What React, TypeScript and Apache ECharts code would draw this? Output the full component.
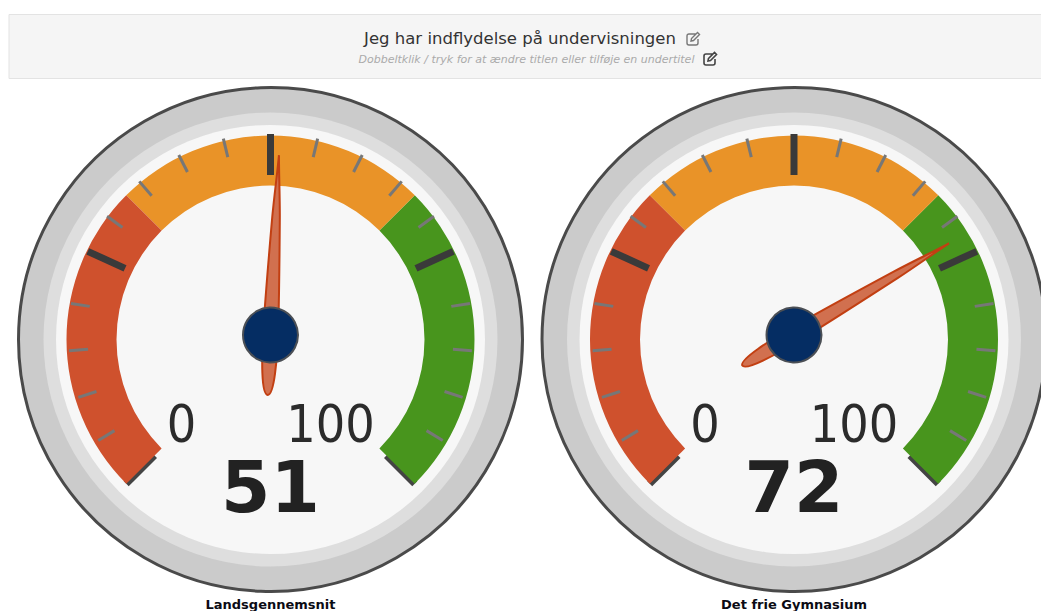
import React, { useEffect, useRef } from "react";
import * as echarts from "echarts";

const categories = ["Landsgennemsnit", "Det frie Gymnasium"];
const values = [51, 72];
const scaleLabels = ["0", "100"];
const scaleMin = 0;
const scaleMax = 100;
const titleText = "Jeg har indflydelse på undervisningen";
const subtitleText = "Dobbeltklik / tryk for at ændre titlen eller tilføje en undertitel";
const bandStops = [1 / 3, 2 / 3, 1];
const bandColors = ["#cf512d", "#e99328", "#48951d"];
const minorRanges = [
  [5, 20, 3],
  [30, 45, 3],
  [55, 70, 3],
  [80, 95, 3],
];

const FONT = "'DejaVu Sans', sans-serif";
const centers = [270.5, 794];
const DIAL_Y = 339.5;
const HUB_Y = 335;
const START = 225;
const SWEEP = 270;
const MAJOR_HALF_SWEEP = 65.4;
const angleOf = (v: number) => START - (SWEEP * (v - scaleMin)) / (scaleMax - scaleMin);

echarts.graphic.registerShape(
  "editIcon",
  echarts.graphic.extendPath(
    "M10 3 H3 Q1 3 1 5 V12 Q1 14 3 14 H10 Q12 14 12 12 V8 M5.5 7.5 L11.5 1.5 L13.5 3.5 L7.5 9.5 L5 10 Z",
    {} as any
  )
);

function ticks(
  cx: number,
  cy: number,
  radius: number,
  min: number,
  max: number,
  startAngle: number,
  endAngle: number,
  split: number,
  width: number,
  len: number,
  color: string,
  z: number
) {
  return {
    type: "gauge",
    center: [cx, cy],
    radius,
    min,
    max,
    startAngle,
    endAngle,
    splitNumber: split,
    z,
    silent: true,
    axisLine: { show: false, lineStyle: { width: 0 } },
    axisTick: { show: false },
    axisLabel: { show: false },
    splitLine: { show: true, distance: 0, length: len, lineStyle: { width, color, cap: "butt" } },
    pointer: { show: false },
    anchor: { show: false },
    title: { show: false },
    detail: { show: false },
    data: [],
  };
}

function gaugeSeries(i: number) {
  const cx = centers[i];
  return [
    ticks(cx, DIAL_Y, 204, scaleMin, scaleMax, angleOf(scaleMin), angleOf(scaleMax), 1, 7, 40, "#444444", 2),
    {
      type: "gauge",
      center: [cx, DIAL_Y],
      radius: 204,
      min: scaleMin,
      max: scaleMax,
      startAngle: angleOf(scaleMin),
      endAngle: angleOf(scaleMax),
      z: 3,
      silent: true,
      axisLine: {
        show: true,
        lineStyle: { width: 50, color: bandStops.map((s, k) => [s, bandColors[k]]) },
      },
      axisTick: { show: false },
      axisLabel: { show: false },
      splitLine: { show: false },
      pointer: { show: false },
      anchor: { show: false },
      title: { show: false },
      detail: { show: false },
      data: [],
    },
    ...minorRanges.map(([a, b, n]) =>
      ticks(cx, HUB_Y, 202, a, b, angleOf(a), angleOf(b), n, 3, 19, "#777777", 4)
    ),
    ticks(cx, HUB_Y, 201, 25, 75, 90 + MAJOR_HALF_SWEEP, 90 - MAJOR_HALF_SWEEP, 2, 7, 41, "#3a3a3a", 5),
    {
      type: "gauge",
      center: [cx, HUB_Y],
      radius: 180,
      min: scaleMin,
      max: scaleMax,
      startAngle: angleOf(scaleMin),
      endAngle: angleOf(scaleMax),
      z: 6,
      silent: true,
      axisLine: { show: false, lineStyle: { width: 0 } },
      axisTick: { show: false },
      axisLabel: { show: false },
      splitLine: { show: false },
      pointer: {
        show: true,
        icon: "path://M8 0 C8.8 18 10.8 40 11.8 62 C13 92 14.6 132 15.4 170 C16 205 14.5 240 8 240 C1.5 240 0 205 0.6 170 C1.4 132 3 92 4.2 62 C5.2 40 7.2 18 8 0 Z",
        width: 15,
        length: 240,
        offsetCenter: [0, 60],
        itemStyle: { color: "#d1704f", borderColor: "#c23f12", borderWidth: 2 },
      },
      anchor: {
        show: true,
        showAbove: true,
        size: 55,
        itemStyle: { color: "#052d63", borderColor: "#4b4f55", borderWidth: 2 },
      },
      title: {
        show: true,
        offsetCenter: [0, 269],
        fontFamily: FONT,
        fontSize: 13,
        fontWeight: "bold",
        color: "#0b0b14",
      },
      detail: {
        show: true,
        offsetCenter: [0, 152],
        formatter: "{value}",
        fontFamily: FONT,
        fontSize: 71,
        fontWeight: "bold",
        color: "#222222",
      },
      data: [{ value: values[i], name: categories[i] }],
    },
  ];
}

function dialGraphics(cx: number) {
  const rings = [
    { r: 252, fill: "#cbcbcb", stroke: "#4a4a4a", lineWidth: 3 },
    { r: 227, fill: "#dedede", stroke: "none", lineWidth: 0 },
    { r: 214.5, fill: "#f7f7f7", stroke: "none", lineWidth: 0 },
  ];
  const circles = rings.map((s, k) => ({
    type: "circle",
    z: k,
    shape: { cx, cy: DIAL_Y, r: s.r },
    style: { fill: s.fill, stroke: s.stroke, lineWidth: s.lineWidth },
    silent: true,
  }));
  const label = (text: string, x: number) => ({
    type: "text",
    z: 10,
    x,
    y: 424,
    scaleX: 0.91,
    silent: true,
    style: {
      text,
      fontFamily: FONT,
      fontSize: 51,
      fill: "#2b2b2b",
      textAlign: "center",
      textVerticalAlign: "middle",
    },
  });
  return [...circles, label(scaleLabels[0], cx - 89), label(scaleLabels[1], cx + 60)];
}

function headerGraphics() {
  return [
    {
      type: "rect",
      z: 0,
      silent: true,
      shape: { x: 9, y: 14.5, width: 1040, height: 64 },
      style: { fill: "#f5f5f5", stroke: "#e3e3e3", lineWidth: 1 },
    },
    {
      type: "text",
      z: 1,
      x: 520,
      y: 38,
      silent: true,
      style: {
        text: titleText,
        fontFamily: FONT,
        fontSize: 16.5,
        fill: "#333333",
        textAlign: "center",
        textVerticalAlign: "middle",
      },
    },
    {
      type: "text",
      z: 1,
      x: 526.5,
      y: 59,
      silent: true,
      style: {
        text: subtitleText,
        fontFamily: FONT,
        fontSize: 11,
        fontStyle: "italic",
        fill: "#aaaaaa",
        textAlign: "center",
        textVerticalAlign: "middle",
      },
    },
    {
      type: "editIcon",
      z: 1,
      x: 686,
      y: 31,
      silent: true,
      style: { fill: "none", stroke: "#777777", lineWidth: 1.4 },
    },
    {
      type: "editIcon",
      z: 1,
      x: 703,
      y: 51,
      silent: true,
      style: { fill: "none", stroke: "#444444", lineWidth: 1.6 },
    },
  ];
}

export default function App() {
  const ref = useRef<HTMLDivElement>(null);
  useEffect(() => {
    const chart = echarts.init(ref.current as HTMLDivElement, undefined, { renderer: "svg" });
    chart.setOption({
      animation: false,
      backgroundColor: "#ffffff",
      graphic: { elements: [...headerGraphics(), ...centers.flatMap(dialGraphics)] },
      series: [...gaugeSeries(0), ...gaugeSeries(1)],
    } as any);
    return () => chart.dispose();
  }, []);
  return (
    <div
      ref={ref}
      style={{ position: "fixed", left: 0, top: 0, width: 1041, height: 611, overflow: "hidden" }}
    />
  );
}
